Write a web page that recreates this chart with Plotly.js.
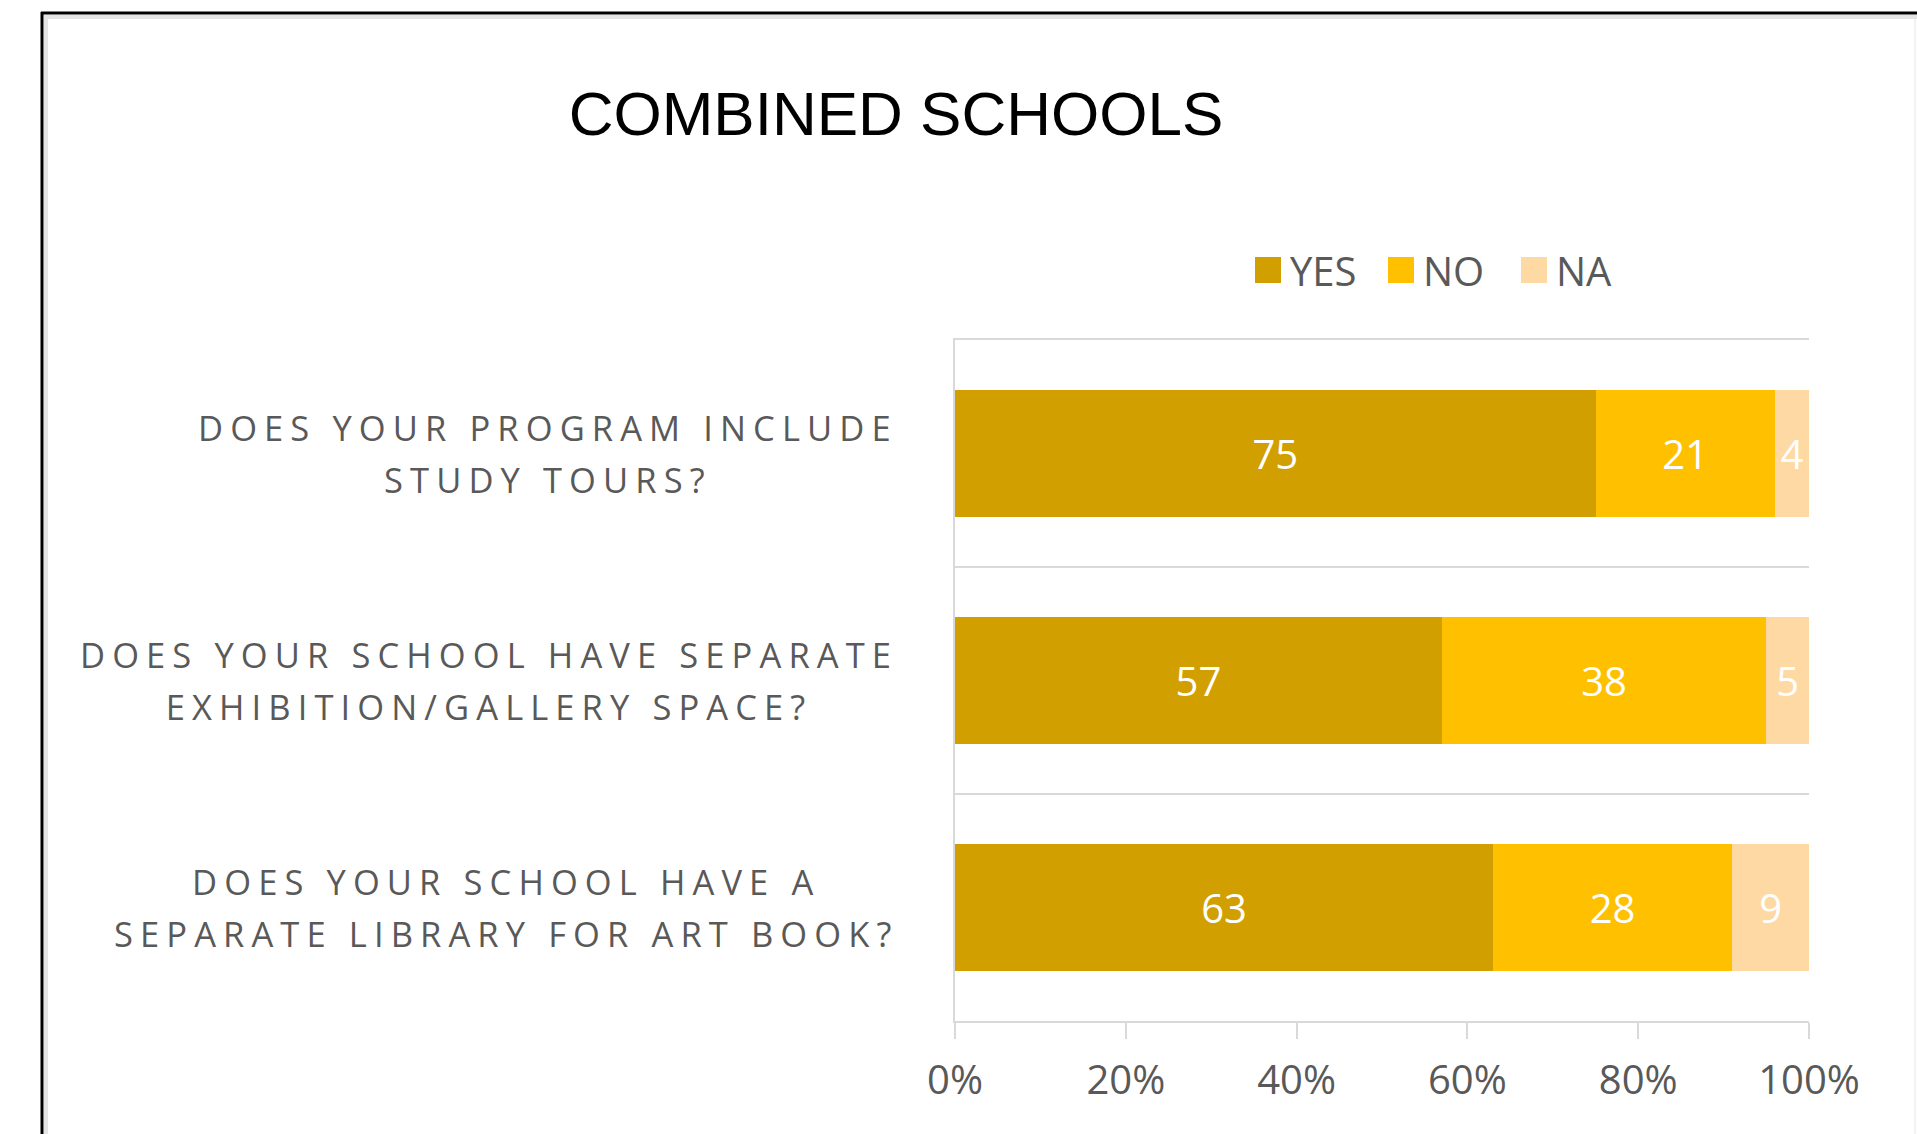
<!DOCTYPE html>
<html>
<head>
<meta charset="utf-8">
<script src="https://cdn.plot.ly/plotly-3.0.1.min.js"></script>
<style>
  html, body { margin: 0; padding: 0; background: #ffffff; }
  #chart { width: 1917px; height: 1134px; }
</style>
</head>
<body>
<div id="chart"></div>
<script>
// ---- data ----
const categories = [
  "DOES YOUR PROGRAM INCLUDE<br>STUDY TOURS?",
  "DOES YOUR SCHOOL HAVE SEPARATE<br>EXHIBITION/GALLERY SPACE?",
  "DOES YOUR SCHOOL HAVE A<br>SEPARATE LIBRARY FOR ART BOOK?"
];
const seriesNames = ["YES", "NO", "NA"];
const yesValues = [75, 57, 63];
const noValues = [21, 38, 28];
const naValues = [4, 5, 9];
const xTickValues = [0, 20, 40, 60, 80, 100];
const xTickLabels = ["0%", "20%", "40%", "60%", "80%", "100%"];
const chartTitle = "COMBINED SCHOOLS";

// ---- styling ----
const colors = ["#D29F00", "#FFC000", "#FFD9A3"];
const sansFont = "Open Sans, Lato, DejaVu Sans, sans-serif";
const labelGray = "#595959";
const lineGray = "#D9D9D9";

const W = 1917, H = 1134;
const M = { l: 955, r: 108, t: 340, b: 113 };
const PW = W - M.l - M.r, PH = H - M.t - M.b;
const px2x = (px) => (px - M.l) / PW;
const py2y = (py) => (H - M.b - py) / PH;

const seriesValues = [yesValues, noValues, naValues];
const traces = seriesValues.map((vals, i) => ({
  type: "bar",
  orientation: "h",
  name: seriesNames[i],
  y: categories,
  x: vals,
  marker: { color: colors[i], line: { width: 0 } },
  text: vals.map(String),
  textposition: "inside",
  insidetextanchor: "middle",
  textfont: { family: sansFont, size: 40, color: "#FFFFFF" },
  hoverinfo: "x+name"
}));

const annotations = categories.map((c) => ({
  xref: "paper", x: px2x(900), xanchor: "right",
  yref: "y", y: c, yanchor: "middle",
  align: "center",
  showarrow: false,
  text: c.split("<br>").map(l => '<span style="font-size:34.5px;letter-spacing:7.1px">' + l + '</span>').join("<br>"),
  font: { family: sansFont, size: 40, color: labelGray }
}));

const shapes = [
  // outer frame (top & left black border with soft inner shade)
  { type: "line", xref: "paper", yref: "paper", x0: px2x(41), x1: px2x(1960), y0: py2y(13), y1: py2y(13), line: { color: "#000000", width: 3 } },
  { type: "line", xref: "paper", yref: "paper", x0: px2x(42), x1: px2x(42), y0: py2y(12), y1: py2y(1180), line: { color: "#000000", width: 3 } },
  { type: "line", xref: "paper", yref: "paper", x0: px2x(44), x1: px2x(1960), y0: py2y(17), y1: py2y(17), line: { color: "#E4E4E4", width: 4 } },
  { type: "line", xref: "paper", yref: "paper", x0: px2x(46), x1: px2x(46), y0: py2y(15), y1: py2y(1180), line: { color: "#E4E4E4", width: 4 } },
  { type: "line", xref: "paper", yref: "paper", x0: px2x(1915), x1: px2x(1915), y0: py2y(15), y1: py2y(1180), line: { color: "#E6E6E6", width: 1 } }
];

const layout = {
  width: W, height: H,
  margin: M,
  paper_bgcolor: "#FFFFFF",
  plot_bgcolor: "#FFFFFF",
  barmode: "stack",
  bargap: 0.44,
  title: {
    text: chartTitle,
    font: { family: "Liberation Sans, Arial, sans-serif", size: 62, color: "#000000" },
    xref: "container", x: 896 / W, xanchor: "center",
    yref: "container", y: 1 - 113 / H, yanchor: "middle"
  },
  showlegend: true,
  legend: {
    orientation: "h",
    xref: "paper", x: px2x(1246), xanchor: "left",
    yref: "paper", y: py2y(270), yanchor: "middle",
    font: { family: sansFont, size: 40, color: labelGray },
    bgcolor: "rgba(0,0,0,0)",
    itemwidth: 34,
    entrywidth: 84,
    traceorder: "normal"
  },
  xaxis: {
    range: [0, 100],
    tickvals: xTickValues,
    ticktext: xTickLabels,
    showgrid: false,
    zeroline: false,
    showline: true, linecolor: lineGray, linewidth: 2, mirror: true,
    ticks: "outside", ticklen: 16, tickwidth: 2, tickcolor: lineGray,
    ticklabelstandoff: 7,
    tickfont: { family: sansFont, size: 40, color: labelGray },
    fixedrange: true
  },
  yaxis: {
    type: "category",
    autorange: "reversed",
    tickson: "boundaries",
    showgrid: true, gridcolor: lineGray, gridwidth: 2,
    showline: true, linecolor: lineGray, linewidth: 2,
    ticks: "",
    showticklabels: false,
    zeroline: false,
    fixedrange: true
  },
  annotations: annotations,
  shapes: shapes
};

Plotly.newPlot("chart", traces, layout, { displayModeBar: false, staticPlot: true }).then(() => {
  document.querySelectorAll("#chart .legendpoints path").forEach(p => p.setAttribute("d", "M13,13H-13V-13H13Z"));
});
</script>
</body>
</html>
